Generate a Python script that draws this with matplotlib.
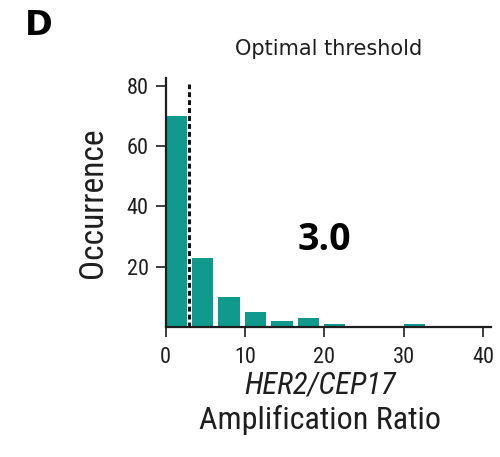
import matplotlib
matplotlib.use("Agg")
import matplotlib.pyplot as plt
import numpy as np
from matplotlib import font_manager

names = {f.name for f in font_manager.fontManager.ttflist}
narrow = "Roboto Condensed" if "Roboto Condensed" in names else "Liberation Sans Narrow" if "Liberation Sans Narrow" in names else "Roboto"

bin_edges = [0, 10/3, 20/3, 10, 40/3, 50/3, 20, 70/3, 80/3, 30, 100/3]
counts = [70, 23, 10, 5, 2, 3, 1, 0, 0, 1]
threshold = 3.0
xticks = [0, 10, 20, 30, 40]
yticks = [20, 40, 60, 80]

teal = "#0f9a8d"
ink = "#1e1e1e"

fig = plt.figure(figsize=(5, 4.57), dpi=100)
ax = fig.add_axes([0.331, 0.284, 0.651, 0.545])

lefts = np.array(bin_edges[:-1])
widths = np.diff(bin_edges)
ax.bar(lefts, counts, width=widths * 0.8, align="edge", color=teal, edgecolor="none", zorder=2)
ax.plot([threshold, threshold], [0, 80.5], linestyle=(0, (1.6, 1.0)), color="#111111", lw=2.2, zorder=3)

ax.set_xlim(0, 41)
ax.set_ylim(0, 82.5)
ax.set_xticks(xticks)
ax.set_yticks(yticks)
for s in ["top", "right"]:
    ax.spines[s].set_visible(False)
for s in ["left", "bottom"]:
    ax.spines[s].set_linewidth(1.6)
    ax.spines[s].set_color(ink)
ax.tick_params(direction="out", length=7, width=1.2, color=ink, labelsize=16, pad=5)
for lab in ax.get_xticklabels() + ax.get_yticklabels():
    lab.set_fontfamily(narrow)
    lab.set_color(ink)
ax.tick_params(axis="x", pad=7)

fig.text(0.186, 0.556, "Occurrence", fontsize=24, family=narrow, rotation=90, ha="center", va="center", color=ink)
fig.text(0.64, 0.158, "HER2/CEP17", fontsize=22, family=narrow, style="italic", ha="center", va="center", color=ink)
fig.text(0.64, 0.082, "Amplification Ratio", fontsize=23, family=narrow, ha="center", va="center", color=ink)

fig.text(0.657, 0.893, "Optimal threshold", fontsize=15, family="DejaVu Sans", ha="center", va="center", color=ink)
fig.text(0.648, 0.474, "3.0", fontsize=27, family="Open Sans", weight="bold", ha="center", va="center", color="black")
fig.text(0.05, 0.945, "D", fontsize=24, family="DejaVu Sans", weight="bold", ha="left", va="center", color="black")

fig.savefig("out.png", dpi=100)
